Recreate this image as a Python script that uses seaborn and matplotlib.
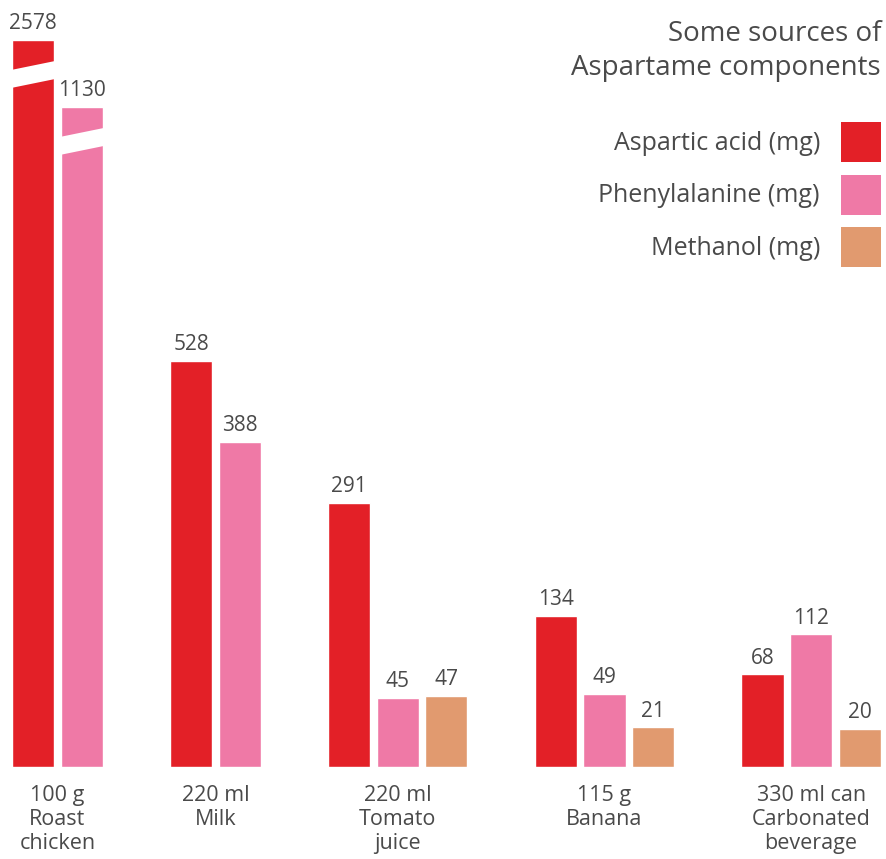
import numpy as np
import pandas as pd
import seaborn as sns
import matplotlib
matplotlib.use("Agg")
import matplotlib.pyplot as plt
from matplotlib.patches import Patch, Polygon

items = ["100 g\nRoast\nchicken", "220 ml\nMilk", "220 ml\nTomato\njuice",
         "115 g\nBanana", "330 ml can\nCarbonated\nbeverage"]
components = ["Aspartic acid (mg)", "Phenylalanine (mg)", "Methanol (mg)"]
aspartic = [2578, 528, 291, 134, 68]
phenylalanine = [1130, 388, 45, 49, 112]
methanol = [np.nan, np.nan, 47, 21, 20]
colors = ["#e32027", "#ef79a6", "#e19a6f"]
text_col = "#4a4a4a"

sns.set_theme(style="white")
plt.rcParams["font.family"] = ["Open Sans", "DejaVu Sans"]

# long table, one row per drawn bar; groups packed with a fixed gap
rows = []
pos = 0.0
group_gap = 1.25
centers = []
for i, item in enumerate(items):
    start = pos
    for comp, vals in zip(components, [aspartic, phenylalanine, methanol]):
        v = vals[i]
        if np.isnan(v):
            continue
        rows.append({"item": item, "component": comp, "value": v, "pos": pos})
        pos += 1
    centers.append((start + pos - 1) / 2)
    pos += group_gap
df = pd.DataFrame(rows)

# infographic scale: power below the break, squeezed above it
p = 0.72
cut = 600
k = 406 / 528 ** p  # px per scale unit
hi_v = [cut, 1130, 2578, 10000]
hi_t = [cut ** p, 660 / k, 727 / k, 900 / k]


def fwd(v):
    v = np.clip(np.asarray(v, dtype=float), 0, None)
    return np.where(v <= cut, v ** p, np.interp(v, hi_v, hi_t))


def inv(t):
    t = np.clip(np.asarray(t, dtype=float), 0, None)
    return np.where(t <= cut ** p, t ** (1 / p), np.interp(t, hi_t, hi_v))


fig = plt.figure(figsize=(8.86, 8.59), dpi=100)
ax = fig.add_axes([0, 92 / 859, 1, 767 / 859])

sns.barplot(data=df, x="pos", y="value", hue="component", hue_order=components,
            palette=colors, native_scale=True, dodge=False, width=0.866,
            saturation=1, legend=False, ax=ax)

ax.set_yscale("function", functions=(fwd, inv))
ax.set_ylim(0, float(inv(767 / k)))
ax.set_xlim(-0.68, 17.54)

for c in ax.containers:
    ax.bar_label(c, fmt="%d", padding=4, fontsize=15, color=text_col)

# white slanted breaks on the oversized bars
for bar in ax.patches:
    h = bar.get_height()
    if not h > cut:
        continue
    x0 = bar.get_x() - 0.02
    x1 = bar.get_x() + bar.get_width() + 0.02
    top = float(fwd(h))
    y = lambda off: float(inv(top - off / k))
    ax.add_patch(Polygon([(x0, y(30)), (x1, y(21)), (x1, y(39)), (x0, y(48))],
                         closed=True, facecolor="white", edgecolor="none", zorder=5))

ax.set_xticks(centers)
ax.set_xticklabels(items, fontsize=15.5, color=text_col, linespacing=1.2)
ax.tick_params(axis="x", length=0, pad=13)
ax.set_yticks([])
ax.set_xlabel("")
ax.set_ylabel("")
sns.despine(ax=ax, left=True, bottom=True)

fig.text(881 / 886, 1 - 20 / 859, "Some sources of\nAspartame components",
         ha="right", va="top", fontsize=20, color=text_col, linespacing=1.3)

handles = [Patch(facecolor=c, edgecolor="none") for c in colors]
leg = fig.legend(handles, components, loc="upper right",
                 bbox_to_anchor=(881 / 886, 1 - 122 / 859), frameon=False,
                 markerfirst=False, fontsize=18, handlelength=1.6, handleheight=2.085,
                 handletextpad=0.84, labelspacing=0.5, borderpad=0, borderaxespad=0)
for t in leg.get_texts():
    t.set_color(text_col)

fig.savefig("out.png", dpi=100)
